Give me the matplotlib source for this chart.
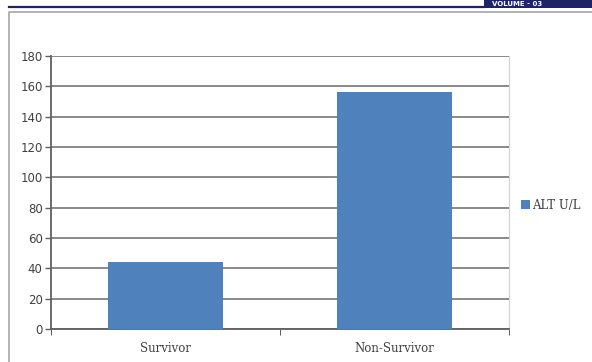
import numpy as np
import matplotlib.pyplot as plt
from matplotlib.patches import Rectangle
from matplotlib.lines import Line2D

# datos del grafico
categorias = ["Survivor", "Non-Survivor"]
valores_alt = [44, 156]
serie = "ALT U/L"
ticks_y = [0, 20, 40, 60, 80, 100, 120, 140, 160, 180]

azul = "#4f81bd"
gris_texto = "#404040"

fig = plt.figure(figsize=(5.92, 3.62), dpi=100)
W, H = 592, 362

# linea azul de cabecera y caja de volumen
fig.add_artist(Line2D([9 / W, 484 / W], [1 - 7 / H, 1 - 7 / H], color="#1f2466", lw=1.6))
fig.add_artist(Rectangle((484 / W, 1 - 8 / H), 120 / W, 8 / H, color="#1f2466", lw=0))
fig.text(492 / W, 1 - 4 / H, "VOLUME - 03", color="white", fontsize=5, weight="bold",
         va="center", ha="left")

# marco del area del grafico
fig.add_artist(Line2D([9 / W, 9 / W, 1], [0, 1 - 12 / H, 1 - 12 / H], color="#a6a6a6", lw=1.2))

ax = fig.add_axes([51 / W, 33 / H, 458 / W, 273 / H])
x = np.arange(len(categorias))
ax.bar(x, valores_alt, width=0.5, color=azul, zorder=3, label=serie)

ax.set_xlim(-0.5, 1.5)
ax.set_ylim(0, 180)
ax.set_yticks(ticks_y)
ax.set_yticklabels([str(t) for t in ticks_y], color=gris_texto, fontsize=8.5,
                   family="DejaVu Sans")
ax.yaxis.grid(True, color="#808080", lw=1.3, zorder=0)

ax.set_xticks(x)
ax.set_xticklabels(categorias, family="DejaVu Serif", fontsize=8.5, color=gris_texto)
ax.tick_params(axis="x", length=0, pad=9)
ax.set_xticks([-0.5, 0.5, 1.5], minor=True)
ax.tick_params(axis="x", which="minor", length=4, color="#404040", direction="out")
ax.tick_params(axis="y", length=4, color="#606060", width=1, direction="out", pad=2)

ax.spines["top"].set_visible(False)
ax.spines["right"].set_color("#d0d0d0")
ax.spines["left"].set_color("#606060")
ax.spines["left"].set_linewidth(1.3)
ax.spines["bottom"].set_color("#606060")
ax.spines["bottom"].set_linewidth(1.3)

leg = ax.legend(loc="center left", bbox_to_anchor=(1.0, 0.454), frameon=False,
                handlelength=0.75, handleheight=0.75, handletextpad=0.2, borderaxespad=0.6,
                prop={"family": "DejaVu Serif", "size": 8.5})
for t in leg.get_texts():
    t.set_color(gris_texto)

fig.savefig("out.png", dpi=100)
